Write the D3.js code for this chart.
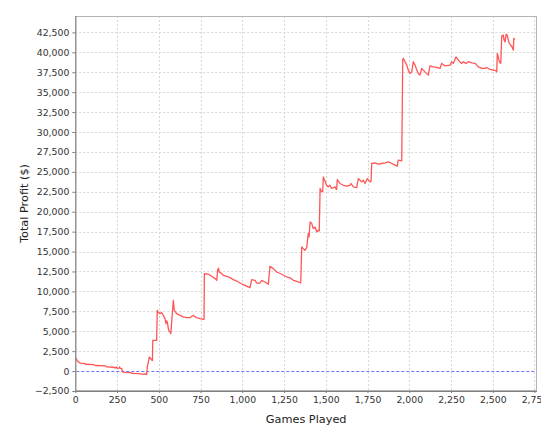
<!DOCTYPE html>
<html><head><meta charset="utf-8">
<script src="https://cdn.jsdelivr.net/npm/d3@7"></script>
<style>html,body{margin:0;padding:0;background:#fff;}svg{display:block;}</style>
</head><body>
<svg id="chart" width="559" height="439"></svg>
<script>
const games = [0,5,12,20,30,52,60,110,120,180,190,230,240,246,250,262,266,270,278,284,300,332,340,380,400,422,426,428,
431,437,443,452,459,462,464,487,491,496,507,517,527,537,543,547,551,559,567,572,587,593,607,627,647,667,687,707,717,727,747,767,771,
773,797,817,837,847,853,858,862,877,886,907,926,946,967,986,1016,1046,1056,1076,1086,1106,1116,1136,1156,1166,1186,1206,1236,1266,1286,1306,1336,1350,
1356,1365,1375,1386,1395,1400,1406,1416,1425,1436,1446,1455,1461,1466,1476,1482,1485,1495,1505,1515,1525,1535,1555,1565,1569,1585,1605,1625,1645,1651,1665,1685,1695,1715,1725,1735,1749,1765,1771,
1775,1795,1815,1835,1855,1875,1895,1915,1928,1934,1955,1961,1964,1975,1985,1994,2004,2015,2024,2035,2045,2054,2064,2075,2094,2114,2124,2144,2164,2184,2194,2214,2244,2254,2264,2280,2294,2314,2324,2340,2354,2374,2394,2414,2434,2454,2464,2484,2504,2520,2524,
2527,2533,2539,2548,2554,2563,2568,2574,2580,2587,2593,2599,2608,2615,2619,2623,2626,2633];
const profit = [1760,1500,1300,1150,1000,960,860,820,700,660,520,480,380,520,360,380,520,330,300,-120,-160,-200,-300,-330,-380,-400,-250,-400,
500,1100,1760,1550,1340,1340,3850,3850,7620,7400,7200,7350,7000,6580,5950,6300,6150,5110,4900,4700,8880,7620,7200,7000,6800,6700,6700,7000,6800,6700,6580,6500,6500,
12230,12150,11900,11600,11390,12740,12900,12430,12230,12020,11900,11730,11480,11300,11050,10760,10470,11480,11390,11050,11050,11390,11180,10890,13150,12860,12430,12150,11810,11700,11390,11180,11050,
15570,15370,15160,15500,17260,16830,18710,18510,17880,18080,17460,17670,17600,22910,22480,22570,24370,23860,23320,23110,23320,22910,23110,22780,24040,23540,23320,23200,23320,23540,23110,23030,24160,23740,23950,23540,24160,23740,23800,
26050,26130,25960,26050,26130,26250,26050,25840,25710,26460,26380,39110,39240,38820,38400,37770,37350,37550,38820,38400,37770,37350,37140,37980,37550,37140,38310,38180,38100,37980,38610,38310,38400,38820,38610,39440,39020,38610,38820,38610,38820,38690,38610,38180,37980,37980,38100,37850,37770,37680,37550,
39860,39440,38820,38610,42040,42160,41530,41320,42290,42160,41530,41120,40910,40690,40490,40280,41750,41620];
const xTicks = [0,250,500,750,1000,1250,1500,1750,2000,2250,2500,2750];
const yTicks = [-2500,0,2500,5000,7500,10000,12500,15000,17500,20000,22500,25000,27500,30000,32500,35000,37500,40000,42500];
const xLabel = "Games Played";
const yLabel = "Total Profit ($)";

const svg = d3.select("#chart");
const L = 75.3, R = 537, T = 16, B = 391;
const x = d3.scaleLinear().domain([0, 2765]).range([L, R]);
const y = d3.scaleLinear().domain([-2500, 44560]).range([B, T]);
const fmt = d3.format(",");

svg.append("rect").attr("width",559).attr("height",439).attr("fill","#fff");
const defs = svg.append("defs");
defs.append("clipPath").attr("id","plotclip").append("rect").attr("x",L).attr("y",T).attr("width",R-L).attr("height",B-T);
defs.append("clipPath").attr("id","chartclip").append("rect").attr("x",0).attr("y",0).attr("width",541).attr("height",439);

// gridlines
const grid = svg.append("g").attr("clip-path","url(#plotclip)");
grid.selectAll("line.vg").data(xTicks).join("line").attr("class","vg")
  .attr("x1",d=>Math.round(x(d))+0.5).attr("x2",d=>Math.round(x(d))+0.5).attr("y1",T).attr("y2",B)
  .attr("stroke","#d6d6d6").attr("stroke-dasharray","2,2");
grid.selectAll("line.hg").data(yTicks.filter(d=>d!==0)).join("line").attr("class","hg")
  .attr("y1",d=>Math.round(y(d))+0.5).attr("y2",d=>Math.round(y(d))+0.5).attr("x1",L).attr("x2",R)
  .attr("stroke","#d6d6d6").attr("stroke-dasharray","2,2");

// zero marker
svg.append("line").attr("x1",L+1).attr("x2",R).attr("y1",Math.round(y(0))+0.5).attr("y2",Math.round(y(0))+0.5)
  .style("stroke","rgb(110,110,255)").style("stroke-width","1px").style("stroke-dasharray","3,2");

// outline
svg.append("rect").attr("x",L+0.5).attr("y",T+0.5).attr("width",R-L-1).attr("height",B-T-1)
  .attr("fill","none").attr("stroke","#b4b4b4");

// series
const pts = games.map((g,i)=>[g, profit[i]]);
svg.append("path").datum(pts).attr("clip-path","url(#plotclip)")
  .attr("d", d3.line().x(d=>x(d[0])).y(d=>y(d[1])))
  .attr("fill","none").attr("stroke","#ff5555").attr("stroke-width",1.3).attr("stroke-linejoin","round");

// axes
const gx = svg.append("g").attr("transform",`translate(0,${B})`).attr("clip-path","url(#chartclip)")
  .call(d3.axisBottom(x).tickValues(xTicks).tickFormat(fmt).tickSize(2).tickPadding(3));
const gy = svg.append("g").attr("transform",`translate(${L},0)`)
  .call(d3.axisLeft(y).tickValues(yTicks).tickFormat(fmt).tickSize(3).tickPadding(3));
[gx,gy].forEach(g=>{
  g.select(".domain").attr("stroke","#808080");
  g.selectAll(".tick line").attr("stroke","#808080");
  g.selectAll("text").attr("fill","#333").attr("font-family","DejaVu Sans").attr("font-size","9.3px");
});
gx.select(".domain").attr("d",`M${L},0.5H${R}`);
gy.select(".domain").attr("d",`M0.5,${T}V${B}`);

svg.append("text").attr("x",(L+R)/2).attr("y",422.5).attr("text-anchor","middle")
  .attr("font-family","DejaVu Sans").attr("font-size","11.3px").attr("fill","#222").text(xLabel);
svg.append("text").attr("transform",`translate(28,${(T+B)/2}) rotate(-90)`).attr("text-anchor","middle")
  .attr("font-family","DejaVu Sans").attr("font-size","11.3px").attr("fill","#222").text(yLabel);
</script>
</body></html>
